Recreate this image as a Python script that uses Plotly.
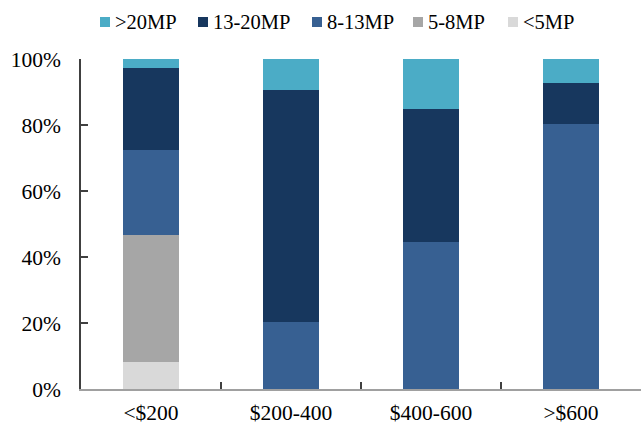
import plotly.graph_objects as go

# Price bands and camera-resolution mix (share of units, %)
price_bands = ["<$200", "$200-400", "$400-600", ">$600"]
series_names = ["<5MP", "5-8MP", "8-13MP", "13-20MP", ">20MP"]
share_lt5 = [8.1, 0, 0, 0]
share_5_8 = [38.5, 0, 0, 0]
share_8_13 = [25.9, 20.4, 44.5, 80.4]
share_13_20 = [24.7, 70.3, 40.5, 12.4]
share_gt20 = [2.8, 9.3, 15.0, 7.2]
series_values = [share_lt5, share_5_8, share_8_13, share_13_20, share_gt20]
series_colors = ["#D9D9D9", "#A6A6A6", "#376092", "#17375E", "#4BACC6"]

FONT = "Liberation Serif, Times New Roman, serif"
AXIS_FS = 21.5
LEGEND_FS = 20.5

fig = go.Figure()
for name, vals, col in zip(series_names, series_values, series_colors):
    fig.add_trace(go.Bar(
        x=price_bands, y=vals, name=name, width=0.4,
        marker=dict(color=col, line=dict(width=0)),
        showlegend=False,
    ))

# Legend row along the top, reading from the top segment downward
L, R, T, B = 81, 0, 59, 36
W, H = 641 - L - R, 425 - T - B
legend_left_px = [100, 198, 312, 413, 508]
legend_y_px = 22
for left, name, col in zip(legend_left_px, series_names[::-1], series_colors[::-1]):
    x0 = (left - L) / W
    x1 = (left + 10 - L) / W
    y0 = (425 - B - (legend_y_px + 5)) / H
    y1 = (425 - B - (legend_y_px - 5)) / H
    fig.add_shape(type="rect", xref="paper", yref="paper",
                  x0=x0, x1=x1, y0=y0, y1=y1,
                  fillcolor=col, line=dict(width=0))
    fig.add_annotation(xref="paper", yref="paper",
                       x=(left + 13 - L) / W, y=(425 - B - legend_y_px) / H,
                       text=name, showarrow=False, xanchor="left", yanchor="middle",
                       font=dict(family=FONT, size=LEGEND_FS, color="#000000"))

fig.update_layout(
    barmode="stack",
    width=641, height=425,
    margin=dict(l=L, r=R, t=T, b=B, autoexpand=False),
    paper_bgcolor="white", plot_bgcolor="white",
    font=dict(family=FONT, size=AXIS_FS, color="#000000"),
    showlegend=False,
)
fig.update_xaxes(
    type="category", tickson="boundaries", automargin=False,
    ticks="inside", ticklen=7, tickcolor="#404040", tickwidth=1.5,
    showline=True, linecolor="#A0A0A0", linewidth=2,
    showgrid=False, zeroline=False,
    ticklabelstandoff=3,
    tickfont=dict(family=FONT, size=AXIS_FS, color="#000000"),
)
fig.update_yaxes(
    range=[0, 100], tickvals=[0, 20, 40, 60, 80, 100],
    ticktext=["0%", "20%", "40%", "60%", "80%", "100%"],
    automargin=False,
    ticks="inside", ticklen=7, tickcolor="#404040", tickwidth=1.5,
    showline=True, linecolor="#404040", linewidth=1.5,
    showgrid=False, zeroline=False,
    ticklabelstandoff=14,
    tickfont=dict(family=FONT, size=AXIS_FS, color="#000000"),
)

fig.write_html("out.html")
